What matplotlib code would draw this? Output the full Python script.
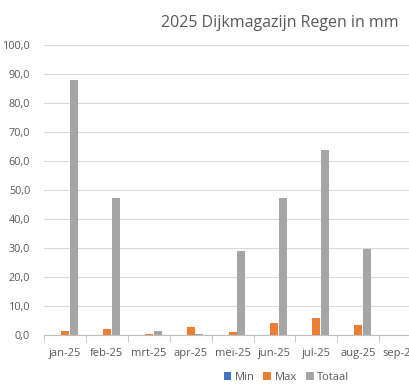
import matplotlib.pyplot as plt
import numpy as np

months = ['jan-25', 'feb-25', 'mrt-25', 'apr-25', 'mei-25', 'jun-25', 'jul-25', 'aug-25', 'sep-25']
min_vals = [0, 0, 0, 0, 0, 0, 0, 0, 0]
max_vals = [1.5, 2.2, 0.5, 2.6, 1.2, 4.0, 6.0, 3.3, 0]
totaal_vals = [88.1, 47.4, 1.5, 0.5, 29.0, 47.1, 63.7, 29.6, 0]

grey_txt = '#595959'
plt.rcParams['font.family'] = ['Open Sans', 'DejaVu Sans']

fig = plt.figure(figsize=(4.09, 3.90), dpi=100)
ax = fig.add_axes([0.1076, 0.141, 0.922, 0.7436])

x = np.arange(len(months))
w = 0.19
ax.bar(x - 0.21, min_vals, w, color='#4472c4', label='Min')
ax.bar(x, max_vals, w, color='#ed7d31', label='Max')
ax.bar(x + 0.21, totaal_vals, w, color='#a5a5a5', label='Totaal')

ax.set_xlim(-0.5, len(months) - 0.5)
ax.set_ylim(0, 100)
ax.set_yticks(np.arange(0, 101, 10))
ax.set_yticklabels([f'{v:.1f}'.replace('.', ',') for v in np.arange(0, 101, 10)])
ax.set_xticks(x)
ax.set_xticklabels(months)
ax.set_xticks(np.arange(-0.5, len(months), 1), minor=True)
ax.tick_params(axis='x', which='major', length=0, pad=9, labelsize=8, labelcolor=grey_txt)
ax.tick_params(axis='x', which='minor', length=5, color='#bfbfbf')
ax.tick_params(axis='y', length=0, pad=10, labelsize=7.8, labelcolor=grey_txt)

ax.grid(axis='y', color='#d9d9d9', linewidth=0.8)
ax.set_axisbelow(True)
for s in ['top', 'right', 'left']:
    ax.spines[s].set_visible(False)
ax.spines['bottom'].set_color('#bfbfbf')

fig.text(0.685, 0.94, '2025 Dijkmagazijn Regen in mm', ha='center', va='center',
         fontsize=11.5, color=grey_txt)

fig.legend(loc='center', bbox_to_anchor=(0.70, 0.033), ncol=3, frameon=False,
           fontsize=8, handlelength=0.7, handleheight=0.7, handletextpad=0.3,
           columnspacing=0.8, labelcolor=grey_txt)

fig.savefig('out.png', dpi=100)
